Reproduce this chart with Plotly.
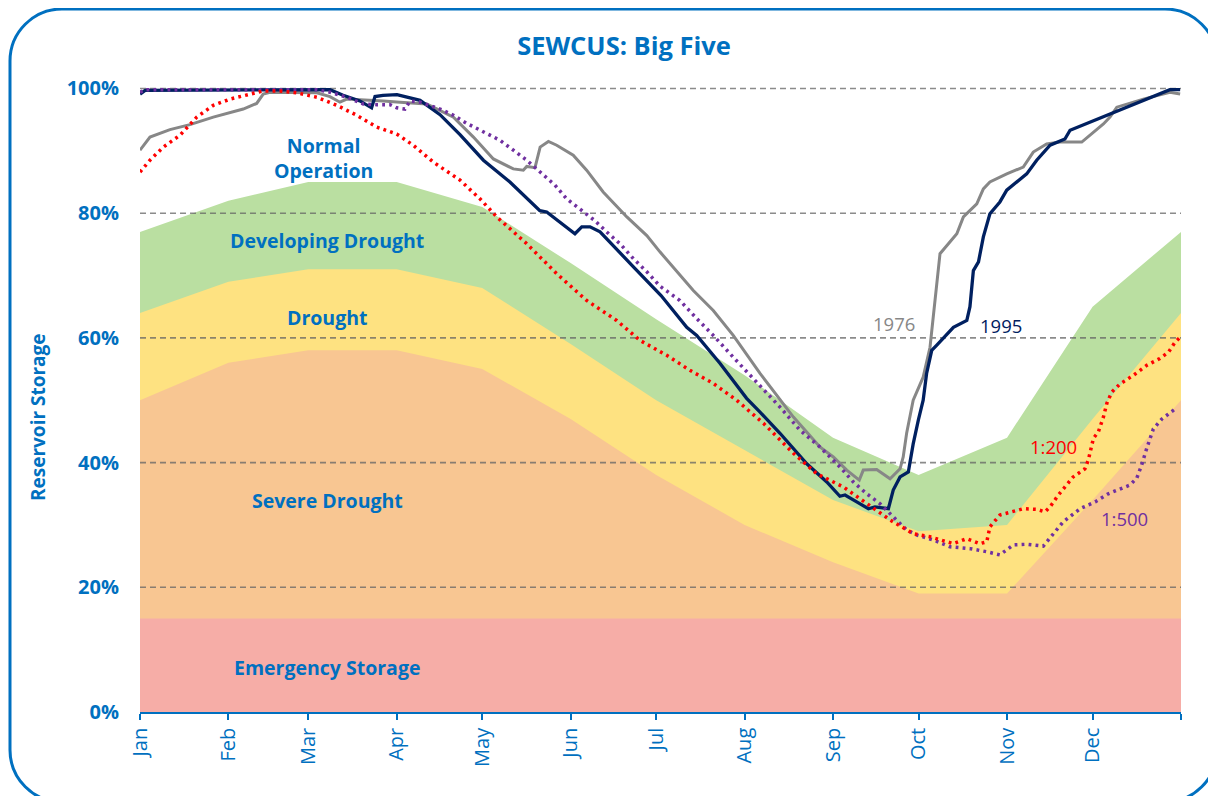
import plotly.graph_objects as go

# ---------------- data ----------------
months = ["Jan", "Feb", "Mar", "Apr", "May", "Jun", "Jul", "Aug", "Sep", "Oct", "Nov", "Dec"]
band_days = [0, 31, 59, 90, 120, 151, 181, 212, 243, 273, 304, 334, 365]

developing_top = [77, 82, 85, 85, 81, 72, 63, 54, 44, 38, 44, 65, 77]
drought_top = [64, 69, 71, 71, 68, 59, 50, 42, 34, 29, 30, 47, 64]
severe_top = [50, 56, 58, 58, 55, 47, 38, 30, 24, 19, 19, 34, 50]
emergency_top = [15, 15, 15, 15, 15, 15, 15, 15, 15, 15, 15, 15, 15]

grid_levels = [20, 40, 60, 80, 100]
y_ticks = [0, 20, 40, 60, 80, 100]
y_ticktext = ["0%", "20%", "40%", "60%", "80%", "100%"]

days_1995 = [0, 1.8, 66.6, 71.2, 77.1, 81.2, 82.4, 85.2, 90.1, 94.7, 98.2, 105.2, 112.2, 120.4,
             129.7, 140.2, 142.6, 152.5, 154.9, 157.8, 161.3, 173.0, 182.7, 191.7, 195.2, 203.4,
             212.7, 217.4, 224.4, 233.8, 240.8, 245.4, 247.2, 251.3, 255.4, 257.7, 262.4, 264.1,
             266.5, 269.4, 271.1, 272.9, 274.6, 275.8, 277.6, 279.3, 285.2, 289.9, 291.0, 292.2,
             294.0, 295.7, 298.0, 301.5, 303.9, 310.9, 314.4, 319.1, 324.3, 326.1, 333.1, 344.8,
             361.1, 364.7]
pct_1995 = [99.1, 99.7, 99.8, 98.9, 98.0, 96.9, 98.7, 98.9, 99.0, 98.5, 98.1, 95.8, 92.6, 88.5,
            85.0, 80.4, 80.2, 76.7, 77.8, 77.8, 77.0, 71.4, 66.8, 61.7, 60.4, 55.9,
            50.3, 48.1, 44.7, 39.8, 36.9, 34.6, 34.8, 33.7, 32.6, 32.9, 32.6, 35.6,
            37.7, 38.5, 43.0, 46.8, 50.0, 54.3, 58.0, 58.8, 61.7, 62.8, 65.0, 70.8,
            72.2, 76.2, 79.9, 81.8, 83.7, 86.3, 88.5, 90.9, 91.9, 93.3, 94.6, 96.7,
            99.8, 99.8]

days_1976 = [0, 3.5, 10.5, 17.5, 25.7, 36.2, 40.9, 43.2, 45.6, 62.0, 66.6, 70.1, 72.5, 79.5,
             85.3, 91.2, 100.5, 102.8, 109.9, 116.9, 123.9, 130.9, 134.4, 135.6, 138.5, 140.3,
             143.2, 146.1, 151.9, 156.6, 162.4, 170.7, 177.7, 182.3, 188.2, 194.0, 201.0, 208.0,
             217.4, 229.1, 238.4, 243.1, 247.8, 252.2, 253.6, 258.3, 263.0, 266.5, 267.6, 268.8,
             271.1, 274.6, 277.0, 278.8, 280.5, 286.4, 288.7, 293.4, 295.7, 298.0, 303.9, 309.7,
             313.2, 317.9, 322.6, 330.2, 333.1, 337.8, 340.1, 342.5, 351.8, 361.1, 364.7]
pct_1976 = [90.1, 92.2, 93.4, 94.2, 95.4, 96.7, 97.6, 99.1, 99.4, 99.3, 98.7, 97.8, 98.3, 98.2,
            98.0, 97.8, 97.5, 97.0, 95.4, 92.2, 88.7, 87.1, 86.9, 87.5, 87.3, 90.6,
            91.5, 90.9, 89.3, 86.9, 83.4, 79.4, 76.4, 73.8, 70.6, 67.6, 64.4, 60.4,
            54.3, 47.3, 42.5, 40.9, 38.8, 37.2, 38.8, 38.9, 37.4, 39.0, 40.9, 44.7,
            50.0, 53.7, 58.5, 66.0, 73.5, 76.7, 79.4, 81.5, 83.9, 85.0, 86.3, 87.4,
            89.8, 91.1, 91.4, 91.4, 92.5, 94.3, 95.4, 97.0, 98.3, 99.4, 99.1]

days_1in200 = [0, 3.5, 8.2, 14.0, 19.9, 25.7, 31.6, 37.4, 43.2, 49.1, 54.9, 62.0, 69.0, 76.0,
               83.0, 90.0, 95.8, 102.8, 112.2, 119.2, 125.1, 135.6, 146.1, 156.6, 167.1, 175.3,
               184.7, 192.8, 201.0, 209.2, 218.6, 229.1, 237.3, 246.6, 254.8, 263.0, 271.1, 277.0,
               285.2, 289.9, 294.5, 296.9, 298.0, 301.5, 309.7, 314.4, 317.3, 319.1, 322.0, 327.2,
               331.3, 332.5, 334.3, 336.0, 337.8, 339.0, 340.7, 343.6, 348.3, 353.0, 357.6, 360.6,
               362.9, 364.7]
pct_1in200 = [86.6, 88.5, 90.6, 92.5, 95.4, 97.3, 98.3, 99.0, 99.6, 99.6, 99.3, 98.6, 97.3, 95.7,
              93.8, 92.7, 90.9, 88.2, 85.3, 82.3, 79.4, 75.1, 70.3, 66.0, 62.8, 59.6,
              57.2, 54.8, 52.7, 50.0, 46.3, 41.5, 38.2, 36.1, 33.4, 30.8, 28.6, 28.1,
              27.0, 27.8, 27.0, 27.3, 29.7, 31.6, 32.6, 32.5, 32.1, 32.9, 34.8, 37.7,
              39.0, 40.4, 43.9, 44.9, 47.3, 49.5, 51.3, 52.6, 54.0, 55.6, 56.7, 57.7,
              59.3, 60.1]

days_1in500 = [0, 2.3, 62.0, 66.6, 72.5, 78.3, 83.0, 87.7, 90.0, 92.9, 94.7, 98.2, 105.2, 109.9,
               114.6, 121.6, 126.2, 130.9, 135.6, 140.3, 145.5, 149.6, 154.3, 159.5, 163.6, 168.3,
               173.0, 177.7, 182.3, 189.3, 195.2, 201.0, 208.0, 216.2, 224.4, 231.4, 238.4, 245.4,
               250.1, 254.8, 259.5, 264.1, 268.8, 272.3, 278.1, 284.0, 291.0, 296.9, 301.5, 306.2,
               310.9, 316.7, 320.2, 323.7, 329.6, 334.9, 339.5, 344.2, 347.1, 349.5, 351.2, 353.0,
               355.3, 358.3, 363.5]
pct_1in500 = [99.4, 99.8, 99.8, 99.4, 98.6, 97.5, 97.4, 97.4, 96.9, 96.7, 98.0, 97.8, 96.7, 95.7,
              94.4, 92.7, 91.7, 90.1, 88.5, 86.6, 84.5, 82.3, 80.7, 78.8, 77.0, 75.1,
              72.7, 70.6, 68.3, 66.0, 63.1, 60.4, 56.9, 52.9, 48.9, 45.2, 42.5, 39.3,
              36.9, 35.0, 33.4, 31.3, 29.2, 28.4, 27.6, 26.5, 26.2, 25.7, 25.2, 26.8,
              26.9, 26.6, 28.6, 30.5, 32.6, 33.7, 35.0, 35.8, 36.4, 37.5, 39.6, 42.3,
              45.4, 47.0, 48.8]

# ---------------- style ----------------
BLUE = "#0070C0"
FONT = "Open Sans"
C_GREEN = "#BADFA1"
C_YELLOW = "#FEE281"
C_ORANGE = "#F8C692"
C_PINK = "#F6ADA7"
C_GRAY = "#878787"
C_NAVY = "#002060"
C_RED = "#FF0000"
C_PURPLE = "#7030A0"

fig = go.Figure()

for top, col in [(developing_top, C_GREEN), (drought_top, C_YELLOW),
                 (severe_top, C_ORANGE), (emergency_top, C_PINK)]:
    fig.add_trace(go.Scatter(x=band_days, y=top, mode="lines", fill="tozeroy",
                             fillcolor=col, line=dict(width=0, color=col),
                             hoverinfo="skip", showlegend=False))

for g in grid_levels:
    fig.add_trace(go.Scatter(x=[band_days[0], band_days[-1]], y=[g, g], mode="lines",
                             line=dict(color="rgba(100,100,100,0.75)", width=1.6, dash="6px,4px"),
                             hoverinfo="skip", showlegend=False))

fig.add_trace(go.Scatter(x=days_1976, y=pct_1976, mode="lines",
                         line=dict(color=C_GRAY, width=3), showlegend=False))
fig.add_trace(go.Scatter(x=days_1995, y=pct_1995, mode="lines",
                         line=dict(color=C_NAVY, width=3.3), showlegend=False))
fig.add_trace(go.Scatter(x=days_1in500, y=pct_1in500, mode="lines",
                         line=dict(color=C_PURPLE, width=3.5, dash="2.8px,4.2px"), showlegend=False))
fig.add_trace(go.Scatter(x=days_1in200, y=pct_1in200, mode="lines",
                         line=dict(color=C_RED, width=3.5, dash="2.8px,4.2px"), showlegend=False))

# ---------------- layout geometry ----------------
# page has an 8px body margin, so the figure is drawn 8px right/down of page origin
OFF = 8
W, H = 1208, 788
PLOT_L, PLOT_R, PLOT_T, PLOT_B = 140, 1181, 76, 712  # page pixels
ML, MR = PLOT_L - OFF, W - (PLOT_R - OFF)
MT, MB = PLOT_T - OFF, H - (PLOT_B - OFF)
pw, ph = PLOT_R - PLOT_L, PLOT_B - PLOT_T


def px_x(px):
    return (px - PLOT_L) / pw


def px_y(py):
    return (PLOT_B - py) / ph


zone_labels = [
    ("Normal<br>Operation", 88.9, 323),
    ("Developing Drought", 75.6, 327),
    ("Drought", 63.3, 327),
    ("Severe Drought", 34.0, 327),
    ("Emergency Storage", 7.2, 327),
]
annotations = []
for txt, yv, xpx in zone_labels:
    annotations.append(dict(text=txt, x=px_x(xpx), xref="paper", y=yv, yref="y",
                            showarrow=False, xanchor="center", yanchor="middle",
                            font=dict(family=FONT, size=19.5, color=BLUE, weight="bold")))

series_labels = [
    ("1976", 894, 323, C_GRAY),
    ("1995", 1001, 325, C_NAVY),
    ("1:200", 1053, 446, C_RED),
    ("1:500", 1124, 518, C_PURPLE),
]
for txt, xpx, ypx, col in series_labels:
    annotations.append(dict(text=txt, x=px_x(xpx), xref="paper", y=px_y(ypx), yref="paper",
                            showarrow=False, xanchor="center", yanchor="middle",
                            font=dict(family=FONT, size=18.5, color=col)))

annotations.append(dict(text="Reservoir Storage", x=px_x(38), xref="paper", y=px_y(417),
                        yref="paper", showarrow=False, textangle=-90,
                        xanchor="center", yanchor="middle",
                        font=dict(family=FONT, size=19, color=BLUE, weight="bold")))

# rounded border (page pixels)
bx0, by0, bx1, by1, r = 10, 9, 1217, 802, 52
k = 0.5523 * r


def P(x, y):
    return f"{px_x(x):.5f},{px_y(y):.5f}"


border_path = (
    f"M {P(bx0 + r, by0)} L {P(bx1 - r, by0)} "
    f"C {P(bx1 - r + k, by0)} {P(bx1, by0 + r - k)} {P(bx1, by0 + r)} "
    f"L {P(bx1, by1 - r)} "
    f"C {P(bx1, by1 - r + k)} {P(bx1 - r + k, by1)} {P(bx1 - r, by1)} "
    f"L {P(bx0 + r, by1)} "
    f"C {P(bx0 + r - k, by1)} {P(bx0, by1 - r + k)} {P(bx0, by1 - r)} "
    f"L {P(bx0, by0 + r)} "
    f"C {P(bx0, by0 + r - k)} {P(bx0 + r - k, by0)} {P(bx0 + r, by0)} Z"
)

fig.update_layout(
    width=W, height=H,
    margin=dict(l=ML, r=MR, t=MT, b=MB),
    paper_bgcolor="white", plot_bgcolor="white",
    showlegend=False,
    title=dict(text="SEWCUS: Big Five", x=(624 - OFF) / W, xanchor="center",
               y=1 - (46 - OFF) / H, yanchor="middle",
               font=dict(family=FONT, size=25.5, color=BLUE, weight="bold")),
    xaxis=dict(range=[band_days[0], band_days[-1]], tickvals=band_days,
               ticktext=months + [""], tickangle=-90, ticks="outside", ticklen=6,
               tickwidth=1.5, tickcolor=BLUE, showline=True, linecolor=BLUE, linewidth=1.5,
               showgrid=False, zeroline=False,
               tickfont=dict(family=FONT, size=20, color=BLUE)),
    yaxis=dict(range=[0, 102], tickvals=y_ticks, ticktext=y_ticktext,
               showgrid=False, zeroline=False, showline=False, ticks="",
               ticklabelstandoff=20,
               tickfont=dict(family=FONT, size=20, color=BLUE, weight="bold")),
    annotations=annotations,
    shapes=[dict(type="path", xref="paper", yref="paper", path=border_path,
                 line=dict(color=BLUE, width=3), layer="above")],
)

fig.write_html("out.html")
